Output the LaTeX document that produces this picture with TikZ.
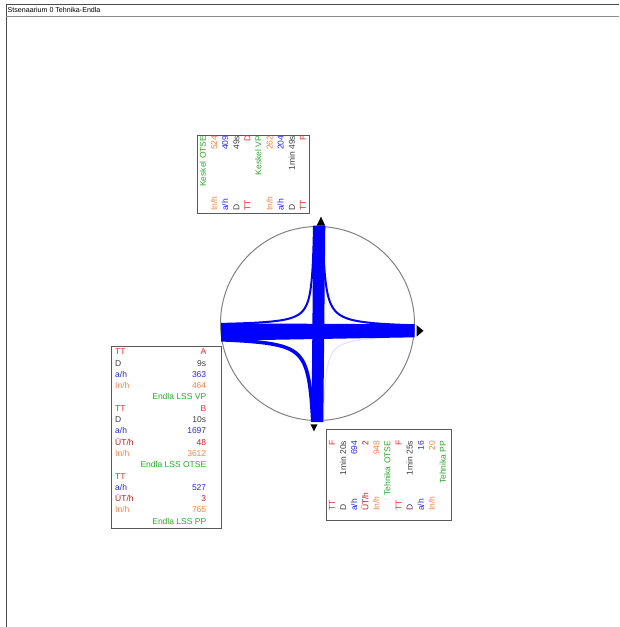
\documentclass[tikz,border=0pt]{standalone}
\usepackage{fontspec}
\setmainfont{Liberation Sans}
\usepackage{array}
\definecolor{ttred}{RGB}{250,40,40}
\definecolor{utred}{RGB}{190,30,30}
\definecolor{dgray}{RGB}{60,60,60}
\definecolor{ahblue}{RGB}{40,40,235}
\definecolor{inorange}{RGB}{245,130,70}
\definecolor{namegreen}{RGB}{40,170,40}
\definecolor{rimgray}{RGB}{130,130,130}
\newcommand{\flowrow}[3]{\textcolor{#1}{#2}\hfill\textcolor{#1}{#3}\\}
\newcommand{\flowname}[1]{\hfill\textcolor{namegreen}{#1}\\}
\tikzset{
  boxframe/.style={draw=black!65, line width=0.8pt},
  tbl/.style={inner sep=0pt, font=\fontsize{8.5}{11.3}\selectfont},
  rtbl/.style={inner sep=0pt, rotate=90, anchor=north west, font=\fontsize{8.5}{11.1}\selectfont},
  band/.style={fill=blue},
  turn/.style={draw=blue, line width=2pt, smooth, samples=80},
  tipmark/.style={fill=black},
  }

\begin{document}
\begin{tikzpicture}[x=1pt, y=-1pt]
  \useasboundingbox (0,0) rectangle (619,627);

  % page frame and title
  \draw[black!70, line width=0.8pt] (6,627) -- (6,4) -- (619,4);
  \draw[black!45, line width=0.8pt] (6,16) -- (619,16);
  \node[anchor=base west, inner sep=0pt, font=\fontsize{7.1}{8}\selectfont] (title) at (7.5,12.5) {Stsenaarium 0 Tehnika-Endla};

  % junction circle
  \draw[rimgray, line width=1pt] (317.5,323.5) circle[radius=97pt];

  % turning flows
  \draw[turn] plot[domain=0.693:4.554] ({316-exp(\x)},{326-200/exp(\x)});    % west - north
  \draw[turn] plot[domain=0.936:4.543] ({320+exp(\x)},{328-260/exp(\x)});    % north - east
  \draw[turn, line width=3.6pt] plot[domain=1.435:4.564] ({317-exp(\x)},{336+360/exp(\x)}); % west - south
  \draw[turn, draw=blue!12, line width=1pt] plot[domain=0.875:4.533] ({321+exp(\x)},{334.5+210/exp(\x)}); % south - east

  % straight flows
  \fill[band] (221,323.3) -- (414.5,324.3) -- (414.5,337.3) -- (221,340.7) -- cycle;
  \fill[band] (313.3,225.5) -- (325.3,225.5) -- (323.3,422) -- (311.5,422) -- cycle;

  % arm arrows
  \fill[tipmark] (316.7,225.5) -- (321,216.7) -- (325.2,225.5) -- cycle;  % north
  \fill[tipmark] (416.5,325) -- (423.5,330.8) -- (416.5,336.7) -- cycle;  % east
  \fill[tipmark] (310.5,424.3) -- (314,431.5) -- (317.5,424.3) -- cycle;  % south

  % west arm table
  \draw[boxframe] (111,346) rectangle (221,528);
  \node[tbl, anchor=north west] (endla) at (115,346.6) {%
    \begin{tabular}{@{}p{91pt}@{}}
      \flowrow{ttred}{TT}{A}
      \flowrow{dgray}{D}{9s}
      \flowrow{ahblue}{a/h}{363}
      \flowrow{inorange}{In/h}{464}
      \flowname{Endla LSS VP}
      \flowrow{ttred}{TT}{B}
      \flowrow{dgray}{D}{10s}
      \flowrow{ahblue}{a/h}{1697}
      \flowrow{utred}{ÜT/h}{48}
      \flowrow{inorange}{In/h}{3612}
      \flowname{Endla LSS OTSE}
      \flowrow{ttred}{TT}{}
      \flowrow{ahblue}{a/h}{527}
      \flowrow{utred}{ÜT/h}{3}
      \flowrow{inorange}{In/h}{765}
      \flowname{Endla LSS PP}
    \end{tabular}};

  % north arm table
  \draw[boxframe] (197,135) rectangle (309,213);
  \node[rtbl] (keskel) at (198,211) {%
    \begin{tabular}{@{}p{75pt}@{}}
      \flowname{Keskel OTSE}
      \flowrow{inorange}{In/h}{524}
      \flowrow{ahblue}{a/h}{409}
      \flowrow{dgray}{D}{49s}
      \flowrow{ttred}{TT}{D}
      \flowname{Keskel VP}
      \flowrow{inorange}{In/h}{262}
      \flowrow{ahblue}{a/h}{204}
      \flowrow{dgray}{D}{1min 49s}
      \flowrow{ttred}{TT}{F}
    \end{tabular}};

  % south arm table
  \draw[boxframe] (326,429) rectangle (451,520);
  \node[rtbl] (tehnika) at (327,511) {%
    \begin{tabular}{@{}p{70pt}@{}}
      \flowrow{ttred}{TT}{F}
      \flowrow{dgray}{D}{1min 20s}
      \flowrow{ahblue}{a/h}{694}
      \flowrow{utred}{ÜT/h}{2}
      \flowrow{inorange}{In/h}{948}
      \flowname{Tehnika OTSE}
      \flowrow{ttred}{TT}{F}
      \flowrow{dgray}{D}{1min 25s}
      \flowrow{ahblue}{a/h}{16}
      \flowrow{inorange}{In/h}{20}
      \flowname{Tehnika PP}
    \end{tabular}};
\end{tikzpicture}
\end{document}
